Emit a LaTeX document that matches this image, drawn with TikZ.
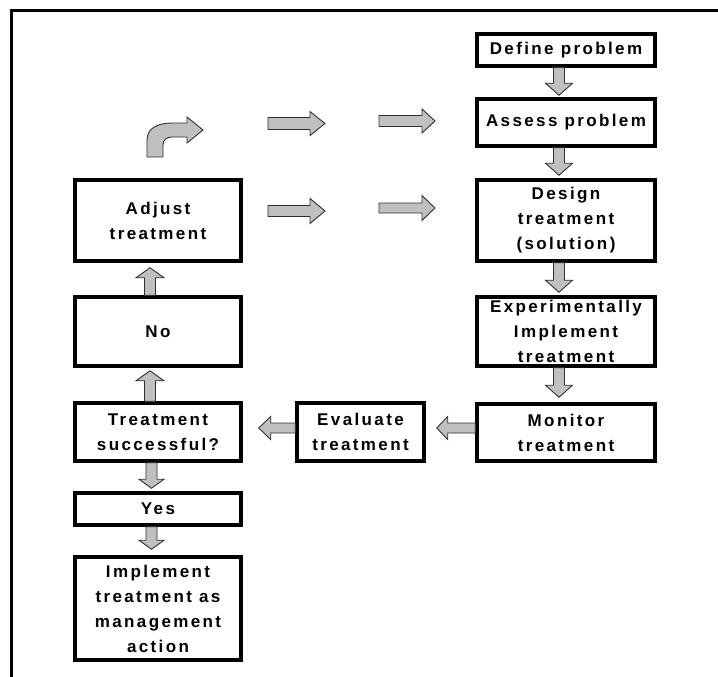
\documentclass[tikz,border=0pt]{standalone}
\usepackage{fontspec}
\usetikzlibrary{calc}
\newfontfamily\boxfont{Liberation Sans}[LetterSpace=14]
\definecolor{arrowgray}{HTML}{C0C0C0}
\definecolor{arrowedge}{HTML}{303030}
\tikzset{
  box/.style={draw=black, line width=3.5pt, align=center, inner sep=0pt,
    font=\boxfont\bfseries\fontsize{17}{25}\selectfont, text=black},
  rightbox/.style={box, minimum width=178pt},
  leftbox/.style={box, minimum width=166pt},
  barrow/.style={fill=arrowgray, draw=arrowedge, line width=0.9pt, line join=miter},
  frameline/.style={line width=3pt, draw=black}
}
\newcommand{\blkarrow}[5]{%
  \coordinate (hb) at ($(#2)!#5!(#1)$);
  \draw[barrow] ($(#1)!#3!90:(#2)$) -- ($(hb)!#3!90:(#2)$) -- ($(hb)!#4!90:(#2)$)
    -- (#2) -- ($(hb)!#4!-90:(#2)$) -- ($(hb)!#3!-90:(#2)$) -- ($(#1)!#3!-90:(#2)$) -- cycle;}
\begin{document}
\begin{tikzpicture}[x=1pt, y=-1pt]
\useasboundingbox (0,0) rectangle (718,677);
% outer frame (only top and left visible)
\draw[frameline] (722,10.7) -- (11.7,10.7) -- (11.7,681);

% right column
\node[rightbox, minimum height=32pt] (define) at (566,50) {Define problem};
\node[rightbox, minimum height=47pt] (assess) at (566,122.5) {Assess problem};
\node[rightbox, minimum height=81pt] (design) at (566,220.5) {Design\\treatment\\(solution)};
\node[rightbox, minimum height=69pt] (exper) at (566,331.5) {Experimentally\\Implement\\treatment};
\node[rightbox, minimum height=57pt] (monitor) at (566,432.5) {Monitor\\treatment};
% middle
\node[box, minimum width=127pt, minimum height=58pt] (evaluate) at (360.5,432) {Evaluate\\treatment};
% left column
\node[leftbox, minimum height=81pt] (adjust) at (158,220.5) {Adjust\\treatment};
\node[leftbox, minimum height=69pt] (no) at (158,331.5) {No};
\node[leftbox, minimum height=58pt] (ts) at (158,432) {Treatment\\successful?};
\node[leftbox, minimum height=32pt] (yes) at (158,509) {Yes};
\node[leftbox, minimum height=103pt] (impl) at (158,608.5) {Implement\\treatment as\\management\\action};

% connectors (block arrows)
\coordinate (a1s) at ($(define.south)+(-7,0)$);
\coordinate (a1e) at ($(assess.north)+(-7,-2)$);
\blkarrow{a1s}{a1e}{5.5pt}{13.5pt}{12pt}
\coordinate (a2s) at ($(assess.south)+(-7,0)$);
\coordinate (a2e) at ($(design.north)+(-7,-3)$);
\blkarrow{a2s}{a2e}{5.5pt}{13.5pt}{12pt}
\coordinate (a3s) at ($(design.south)+(-7,0)$);
\coordinate (a3e) at ($(exper.north)+(-7,-3)$);
\blkarrow{a3s}{a3e}{5.5pt}{13.5pt}{12pt}
\coordinate (a4s) at ($(exper.south)+(-7,0)$);
\coordinate (a4e) at ($(monitor.north)+(-7,-5)$);
\blkarrow{a4s}{a4e}{5.5pt}{13.5pt}{12pt}
\coordinate (a5s) at ($(monitor.west)+(0,-4.5)$);
\coordinate (a5e) at ($(evaluate.east)+(11,-4)$);
\blkarrow{a5s}{a5e}{5pt}{11.5pt}{11pt}
\coordinate (a6s) at ($(evaluate.west)+(0,-4)$);
\coordinate (a6e) at ($(ts.east)+(16,-4)$);
\blkarrow{a6s}{a6e}{5pt}{11.5pt}{12pt}
\coordinate (a7s) at ($(ts.north)+(-8,0)$);
\coordinate (a7e) at ($(no.south)+(-8,3)$);
\blkarrow{a7s}{a7e}{5.5pt}{14pt}{10pt}
\coordinate (a8s) at ($(no.north)+(-8,0)$);
\coordinate (a8e) at ($(adjust.south)+(-8,5)$);
\blkarrow{a8s}{a8e}{5.5pt}{14pt}{10pt}
\coordinate (a9s) at ($(ts.south)+(-6.5,0)$);
\coordinate (a9e) at ($(yes.north)+(-6.5,-3)$);
\blkarrow{a9s}{a9e}{5.5pt}{12.5pt}{9pt}
\coordinate (a10s) at ($(yes.south)+(-6.5,0)$);
\coordinate (a10e) at ($(impl.north)+(-6.5,-6)$);
\blkarrow{a10s}{a10e}{5.5pt}{12.5pt}{9pt}

% free-standing right arrows
\coordinate (r1s) at (268,123.5); \coordinate (r1e) at (325,123.5);
\blkarrow{r1s}{r1e}{6pt}{12pt}{15pt}
\coordinate (r2s) at (379,121); \coordinate (r2e) at (435,121);
\blkarrow{r2s}{r2e}{5.5pt}{12pt}{13pt}
\coordinate (r3s) at (268,211); \coordinate (r3e) at (325,211);
\blkarrow{r3s}{r3e}{5.5pt}{12.5pt}{15pt}
\coordinate (r4s) at (379,208); \coordinate (r4e) at (435,208);
\blkarrow{r4s}{r4e}{5pt}{12.5pt}{13pt}

% curved (bent-up) arrow
\draw[barrow] (147,157) -- (147,140) .. controls (147,128) and (158,123) .. (172,123)
  -- (187,123) -- (187,117) -- (203,130) -- (187,143) -- (187,137) -- (172,137)
  .. controls (167,137) and (163,140) .. (163,145) -- (163,157) -- cycle;
\end{tikzpicture}
\end{document}
